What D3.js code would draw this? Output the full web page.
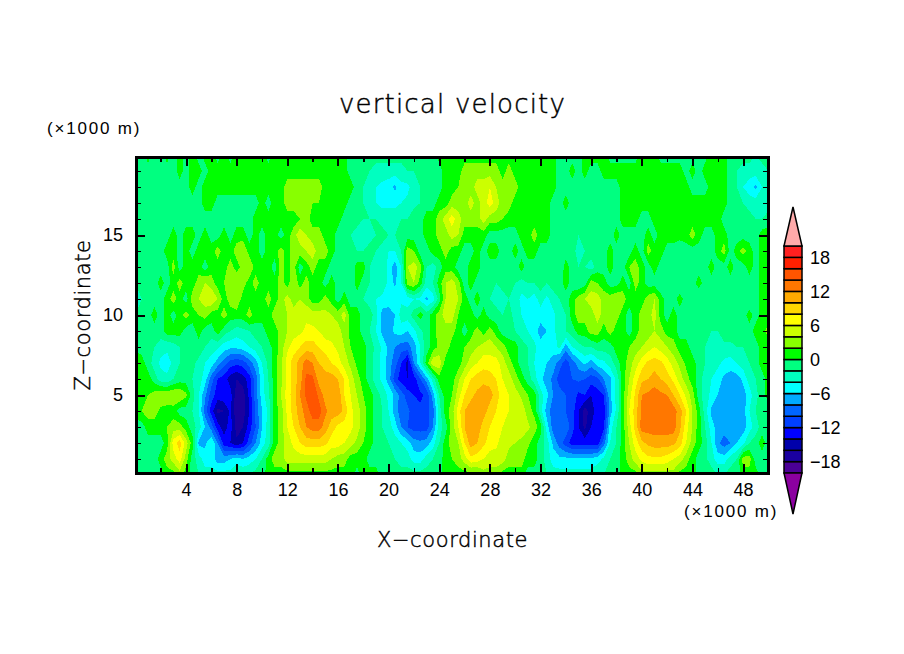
<!DOCTYPE html>
<html>
<head>
<meta charset="utf-8">
<script src="https://cdn.jsdelivr.net/npm/d3@7"></script>
<style>
  html, body { margin: 0; padding: 0; background: #fff; }
  svg { display: block; }
  text { fill: #000; font-family: "Liberation Sans", sans-serif; }
  .stroke-font { font-family: "DejaVu Sans", sans-serif; font-weight: 200; stroke: #000; stroke-width: 0.45; }
</style>
</head>
<body>
<svg id="chart" width="904" height="654"></svg>
<script>
// contour levels and their fills, lowest band first
const levels = d3.range(-20, 21, 2);
const bandColors = ["#4b0096", "#1a00a0", "#0000aa", "#0000ff", "#0040ff", "#0066ff", "#00aaff", "#00ffff", "#00ffc0", "#00ff80",
  "#00ff00", "#88ff00", "#ccff00", "#ffff00", "#ffd700", "#ffaa00", "#ff7700", "#ff5500", "#ff2000", "#ff2020"];
const overColor = "#ffaaaa";
const underColor = "#8b00a0";
const barLabels = [18, 12, 6, 0, -6, -12, -18];

const xMajor = d3.range(4, 49, 4);
const xMinor = d3.range(2, 47, 4);
const zMajor = [5, 10, 15];
const zMinor = [1, 2, 3, 4, 6, 7, 8, 9, 11, 12, 13, 14, 16, 17, 18, 19];

// vertical velocity, one row per km, columns every 0.5 km (x = 0..50)
const z20 = [-1,-1,1,-1,-1,1,-1,1,-1,1, -1,1,1,-1,1,-1,1,1,1,1, 1,-1,1,1,1,1,1,1,1,1, 1,1,1,1,-1,-1,-1,-1,-1,-1, -1,-1,-1,-1,-1,-1,-1,-1,1,1, 1,
  1,1,1,1,1,1,1,1,1,1, 1,1,1,1,1,1,-1,-1,-1,-1, 1,1,1,1,-1,-1,-1,-1,-1,1, 1,1,-1,-1,-1,-1,-1,-1,-1,-1, 1,1,1,-1,-1,-1,-1,-2,-1,-1];
const z19 = [-2,-1,-1,-1,-1,-1,-1,1,-1,1, 1,-1,1,1,1,1,1,1,1,1, 1,1,1,1,1,1,1,1,1,1, 1,1,1,1,-1,-1,-1,-2,-3,-3, -3,-3,-3,-2,-2,-1,-1,-1,-1,1, 1,
  1,3,3,3,3,3,3,1,3,1, 1,1,1,1,1,1,-1,-1,1,-1, 1,-1,-1,1,1,1,1,1,1,1, 1,1,1,1,1,1,-1,1,-1,1, 1,1,1,-1,-2,-3,-3,-3,-3,-2];
const z18 = [-2,-2,-1,-1,-1,-1,-1,-1,-1,1, -1,1,1,1,1,1,1,1,1,1, 1,1,1,1,3,3,3,3,3,3, 1,1,1,1,1,-1,-2,-3,-4,-4.5, -5,-6.5,-4.5,-4.5,-3,-2,-1,-1,-1,1, 1,
  2,3,3,5,5,6,4,3,3,3, 1,1,1,1,1,1,-1,-1,-1,-1, -1,-1,-1,-1,-1,-1,1,1,1,1, 1,1,1,1,1,1,1,-1,-1,-1, 1,1,1,-1,-2,-4,-5,-6.5,-4,-3];
const z17 = [-2,-1,-1,-1,-1,-1,-1,-1,-1,-1, -1,1,1,-1,-1,-1,-1,-1,-1,-1, 1,-1,1,1,3,3,3,3,2,2, 1,1,1,1,-1,-2,-2,-3,-4,-4.5, -4.5,-4.5,-4,-3.5,-2.5,-2,-1,-1,1,1, 3,
  3,3,5,3,5,7,5,3,3,1, 1,1,1,1,1,-1,-1,1,-1,-1, -1,-1,-1,-1,-1,-1,1,1,1,1, 1,1,1,1,1,1,1,1,1,1, 1,1,1,-1,-2,-2,-3,-3,-3,-3];
const z16 = [-2,-1,-1,-1,-2,-1,-1,-1,-1,-1, -1,-1,-1,-1,-1,-1,-1,-1,-1,1, 1,1,1,1,1,1,2,3,1,1, 1,1,1,-1,-1,-1,-2,-2,-2,-3, -3,-3,-2,-2,-1,-1,1,1,3,5, 7,
  5,3,3,3,5,3,3,2,1,1, 1,1,1,1,1,-1,-1,-1,-1,-2, -1,-1,-1,-1,-1,-1,1,1,1,-1, -1,1,1,1,1,1,1,1,1,1, 1,1,-1,-1,-1,-1,-1,-2,-2,-1];
const z15 = [-1,-2,-1,-1,-1,-1,1,-1,1,1, -1,1,-1,-1,1,-1,1,1,-1,1, -1,1,1,-1,1,3,5.5,4,3,3, 1,1,-1,-2,-2,-3,-3,-3,-2,-1, -2,-2,-1,-1,-1,-1,1,1,3,3, 5,
  4,1,1,1,1,-1,-1,-1,-1,-1, 1,1,3,1,1,-1,-1,-1,-2,-2, -2,-1,-1,-1,-1,1,-1,-1,-1,-1, 1,-1,1,1,1,1,1,3,1,-1, -1,1,1,-1,-1,-1,-1,-1,1,1];
const z14 = [-2,-2,-1,-1,-1,1,1,-1,1,-1, 1,1,1,3,1,1,3,4,1,1, -1,1,1,3,1,3,3,4,5,3, 3,1,-1,-2,-2,-2,-2,-1,-2,-3, -4,-4,-2,3,2,-1,-1,1,1,3, 1,
  1,-1,-1,1,-1,1,1,-1,-1,1, -1,1,1,-1,-1,-2,-1,-1,-1,-3, -2,-1,-1,-1,1,-1,-2,-1,1,-1, 3,1,1,-1,-1,-2,-1,-1,-1,-1, -1,1,3,-1,1,3,1,-1,1,1];
const z13 = [-2,-1,-2,-2,-1,-1,3,-1,1,1, 1,-1,1,1,1,3,1,3,4,1, 1,1,-1,3,1,3,-1,1,3,1, 1,-1,-2,-1,-2,1,1,-2,-3,-2, -5,-7,-4,4,5,3,-2,-3,-1,1, 1,
  -1,-1,1,1,-1,-1,-1,-2,-1,-1, 1,-1,-1,-1,-2,-1,-2,1,-1,-2, -2,-3,-1,-1,1,-1,-1,2,3,1, -1,1,-1,-1,-2,-1,-1,-2,-1,-1, 1,-1,-1,1,-1,-1,1,-1,1,1];
const z12 = [-2,-2,-1,-1,1,-1,1,3,1,1, 3,4,3,1,2,3,4,3,1,3, 1,1,1,3,1,4,1,3,1,1, -1,1,-1,-1,-2,1,-1,-2,-4,-2.5, -4.5,-6.5,-4,3,4,1,-3,-2,1,4, 5,
  3,-1,1,-1,-1,-2,-2,-1,-2,-2, -3,-2,-2,-1,-2,-1,-1,1,-1,-2, -1,3,2,1,-1,-1,1,-1,3,1, -1,-1,-2,-1,-1,-2,-1,-1,1,-1, -1,-1,-2,-1,-1,-2,-1,-1,1,1];
const z11 = [-3,-2,-2,-1,-1,1,3,1,-1,3, 4,5,6,4,1,3,4,1,1,1, 1,3,1,3,5,3,4,3,1,1, 3,1,-1,1,-1,-1,-2,-3,-4,-4.5, -5,-4.5,-4.5,-5,-4,-4.5,-6.5,-5,-1,4, 6,
  4,1,-1,1,-1,-2,-3,-3,-2,-3, -4.5,-4,-5,-3,-4.5,-3,-2,-1,1,3, 4,5,5,3,3,4,3,1,1,1, 3,4,1,-1,-1,1,-1,-1,-2,-1, -1,-2,-1,-2,-1,-1,-2,-1,1,1];
const z10 = [-2,-1,-1,1,-1,1,-1,1,3,1, 2,3,1,1,3,1,1,1,3,1, 1,1,3,3,4,5,5,5.5,5,5, 4.5,4,3,5,1,1,-1,-1,-3,-7, -7,-6,-3,-3,-1,1,-1,1,3,5, 5,
  2,1,1,-1,1,-1,-1,-2,-1,-3, -4,-4.5,-5,-5,-4.5,-4.5,-3,-2,1,3, 3,3,5,3,3,3,1,-1,1,3, 3,5,1,-1,1,-1,-1,-1,-1,-2, -2,-1,-1,-2,-1,-1,1,-1,1,1];
const z9 = [-1.5,-1,-2,-1,-1,1,1,1,-1,-1, 1,-1,-1,1,-1,-2,-3,-2.5,-2,-1, -1,1,1,3,4,5,5.5,6.5,6.5,6, 5,5,5,3,1.5,1,-1,-2,-4,-6.5, -7,-5.5,-5,-6,-4.5,-2.5,-1,1,3,3, 3,
  1,-1,1,3,1,3,1,-1,-1,-2, -3,-4,-5,-7,-6,-4.5,-3,-2,-1,1, 1,3,3,1,3,1,1,-1,1,3, 3,4,3,1,1,-1,-1,-1,-1,-1, -2,-2,-1,-1,-1,-1,-1,1,1,3];
const z8 = [-1,-1,-1.5,-2,-3,-3.5,-3,-2,-1,-1, -1,-2,-3,-3.5,-5,-5.5,-5.5,-5,-4,-3, -2,-1,1,3,5.5,7,8,9,9,8, 7,6.5,5.5,4,2,1,1,-1,-2.5,-4.5, -6.5,-8,-9,-9,-7,-4,-1,1,2.5,3.5, 1,
  1,2,3,4,5,5,4,3,1,1, -1,-2,-3.5,-5,-4.5,-5,-3.5,-7,-4,-3, -2,-2,-1,-1,-1,1,1,2,3,4, 5,6,5,4,3,1,1,-1,-1,-2, -2.5,-2.5,-2.5,-2.5,-2,-2,-1,-1,1,1];
const z7 = [3,1,-1,-3,-4.5,-5,-3.5,-2,-1.5,-1.5, -2.5,-4,-5,-7,-9,-11,-11.5,-11,-9,-7, -4,-1.5,1,3.5,7,9,11,13,12,10, 9.5,8,7,5,3.5,1.5,1,-1,-3,-4.5, -7,-9,-12,-15,-8,-4,1,5.5,5.5,1, 1,
  1,3,5,6,7,7,7,5,3,1, -1,-2,-4,-5,-6,-7,-9,-11,-9,-7, -5.5,-7,-5,-4.5,-3,-1,1,3,5,7, 8.5,9,8.5,7,5,3.5,1.5,1,-1,-2, -3,-3.5,-4.5,-5,-4,-3,-2,-1,1,1];
const z6 = [2.5,1,1,-1,-3,-3.5,-2,-1,-1,-2, -3,-5,-9,-12,-13,-15,-16,-15,-13,-9, -5,-2,1,3.5,6.5,9,11,14.5,14.5,11, 10.5,11,10,8,5,3,1,-1,-3,-4.5, -7,-11,-13,-14,-13,-10,-7,-3,1,1, 1,
  3.5,6,8,9,9.5,9,8,6,5,3, 1,-1,-3,-5.5,-7,-8.5,-11,-11,-10,-9.5, -10,-11,-10.5,-8,-6.5,-3.5,1,4,7,9.5, 10,11,10,9,7.5,5,3,1,-1,-3, -4,-5,-6.5,-7,-7,-5.5,-3,-2,-1,1];
const z5 = [-1,1,2,3,3.5,3.7,4,4,2.5,-1, -4,-7.5,-11,-13,-12.5,-13,-17.5,-17,-13.5,-9, -5,-2.5,1,4,7,9,12,14.5,15.5,13.5, 11,11.5,11.5,8,6,4,2,1,-1,-2.5, -4.5,-6.5,-9,-11,-12,-12.5,-11.5,-7,-2,1, 2,
  5,8,9.5,10.5,11,11,9,7,6,5, 3.5,2,1,-3,-5.5,-8,-9,-10,-10.5,-12.5, -12,-14,-13,-12,-6.5,-3.5,1,5,8.5,12, 12.5,13,12.5,12,10,8,5.5,3,-1,-3, -4.5,-6,-7,-7.5,-7.5,-7,-5,-2.5,-1,1];
const z4 = [1,2,3,3,1.5,1,1,-1,-1,-2, -4,-9,-13,-16.5,-16,-13.5,-17.5,-17,-14,-9.5, -6,-3.5,1,3,6.5,9,11,13,15,15, 12.5,11,11,9.5,6.5,5,3,1,-1,-2, -4,-7,-9,-9.5,-11,-11.5,-10.5,-9,-3,1, 3,
  7,10,11,11,11,9,8,7,6,5.5, 5.5,3,1.5,-3,-7,-9,-9.5,-10,-11,-14, -17,-15,-13,-13,-7,-3.5,1,6,9,12.5, 13,13,13,13,13,11,8,4,1,-3, -6.5,-7,-7,-7,-7,-7,-4,-2,-1,-1];
const z3 = [-1,-1,1,1,1,2,3,3,1,-1, -3,-6,-9,-13,-15,-13,-17,-16,-13,-10, -6,-3,1,3,6,8,10,12,13,13, 11,9,7.5,7,6.5,5,3,1,-1,-2, -3,-5,-8,-10,-11,-11,-11,-8,-3,-1, 3,
  6,10,11.5,11.5,9,8,7,6,5.5,5, 5,4.5,3,1,-5,-9,-9,-8.5,-11,-14, -16.5,-14,-13,-12.5,-5,-2,1,5,9,13, 13,13,13,13,13,10.5,7,4,1,-2, -5,-7,-7,-7,-7,-7,-5,-3,-1,-1];
const z2 = [-1,-1,-1,-1,-1,1,7,9,5,1, -6.5,-6.5,-4,-8,-13,-14,-15.5,-14,-11,-8, -5,-3,1,3,5,6.5,8,9,9,9, 8.5,7,7,6,5,3.5,2,1,-1,-2, -2,-3,-4,-5,-7,-7.5,-7,-5,-2,1, 3,
  4,8,11,10,8.5,7,6.5,5,4.5,4, 3.5,2.5,1,-1,-3,-6.5,-9,-11,-13,-13, -13,-13,-13,-9,-4,-2,1,4,7,9.5, 10.5,11,11,11,10.5,9,6,3,1,-1, -4,-7.5,-9,-8,-6,-4.5,-2,-1,1,-1];
const z1 = [-1,-1,-1,-1,1,3,5,7,3,-1, -3,-5,-5,-7,-7,-6,-5,-6,-5,-4, -2,1,3,3,5,5,5,5,5,5, 5,4,3,3,1,1,1,-1,-1,-1, -1,-2,-3,-3,-5,-5,-3,-2,-1,1, 2,
  3,5,7.5,7,6,5,5,5,3,3, 3,1,1,-1,-3,-5,-5.5,-5.5,-5.5,-5.5, -5.5,-5.5,-5,-3.5,-2,-1,1,3,5,6.5, 7.5,7.5,7.5,7,6,5,3,1,-1,-1.5, -3,-5,-5,-3,-2,3,3,-1,-1,-1];
const z0 = [-1,-1,-1,-1,-1,1,1,3,1,-1, -2,-3,-3,-3,-3,-3,-2,-2,-2,-1, -1,1,1,1,1,1,1,1,1,1, 1,1,1,1,1,-1,1,1,1,-1, -1,-1,-1,-1,-1,-1,-1,-1,-1,1, 1,
  1,1,1,1,3,3,3,1,1,1, 1,-1,-1,-2,-2,-3,-3,-3,-3,-3, -3,-3,-2,-2,-1,-1,1,1,1,3, 3,3,3,3,3,1,1,1,-1,-1, -1,-2,-2,-1,-1,1,1,1,-1,-1];
const rows = [z20,z19,z18,z17,z16,z15,z14,z13,z12,z11,z10,z9,z8,z7,z6,z5,z4,z3,z2,z1,z0];

const svg = d3.select("#chart");

// plot area in km, pixel ranges measured from the frame
const plot = { left: 136, right: 768, top: 157, bottom: 473 };
const x = d3.scaleLinear().domain([0, 50]).range([135.4, 768.4]);
const z = d3.scaleLinear().domain([0, 20]).range([475, 155]);

// d3.contours puts values at cell centres, so shift back half a cell
const nx = z20.length, ny = rows.length;
const toPixels = d3.geoTransform({
  point(gx, gy) {
    this.stream.point(x((gx - 0.5) / 2), z(20 - (gy - 0.5)));
  }
});
const contourPath = d3.geoPath(toPixels);
const contours = d3.contours().size([nx, ny]).thresholds(levels.slice(0, -1))(rows.flat());
const color = d3.scaleThreshold().domain(levels.slice(1, -1)).range(bandColors);

svg.append("clipPath").attr("id", "plot-clip").append("rect")
  .attr("x", plot.left).attr("y", plot.top)
  .attr("width", plot.right - plot.left).attr("height", plot.bottom - plot.top);

svg.append("g").attr("clip-path", "url(#plot-clip)")
  .selectAll("path").data(contours).join("path")
  .attr("d", contourPath)
  .attr("fill", d => color(d.value))
  .attr("shape-rendering", "crispEdges");

// ticks point inward on all four sides
function addAxis(axis, tx, ty, width) {
  const g = svg.append("g").attr("transform", `translate(${tx},${ty})`).call(axis);
  g.select(".domain").remove();
  g.selectAll("line").attr("stroke", "#000").attr("stroke-width", width).attr("shape-rendering", "crispEdges");
  return g;
}
addAxis(d3.axisBottom(x).tickValues(xMinor).tickSize(-5).tickFormat(""), 0, plot.bottom, 1.5);
addAxis(d3.axisTop(x).tickValues(xMinor).tickSize(-5).tickFormat(""), 0, plot.top, 1.5);
addAxis(d3.axisLeft(z).tickValues(zMinor).tickSize(-5).tickFormat(""), plot.left, 0, 1.5);
addAxis(d3.axisRight(z).tickValues(zMinor).tickSize(-5).tickFormat(""), plot.right, 0, 1.5);
addAxis(d3.axisTop(x).tickValues(xMajor).tickSize(-9).tickFormat(""), 0, plot.top, 2);
addAxis(d3.axisRight(z).tickValues(zMajor).tickSize(-9).tickFormat(""), plot.right, 0, 2);

const xAxis = addAxis(d3.axisBottom(x).tickValues(xMajor).tickSize(-9).tickPadding(10), 0, plot.bottom, 2);
xAxis.selectAll("text").attr("font-size", 18).attr("font-family", "Liberation Sans").attr("fill", "#000");
const zAxis = addAxis(d3.axisLeft(z).tickValues(zMajor).tickSize(-9).tickPadding(13), plot.left, 0, 2);
zAxis.selectAll("text").attr("font-size", 18).attr("font-family", "Liberation Sans").attr("fill", "#000");

svg.append("rect")
  .attr("x", plot.left).attr("y", plot.top)
  .attr("width", plot.right - plot.left).attr("height", plot.bottom - plot.top)
  .attr("fill", "none").attr("stroke", "#000").attr("stroke-width", 3)
  .attr("shape-rendering", "crispEdges");

// titles
svg.append("text").attr("class", "stroke-font").attr("x", 452.5).attr("y", 113).attr("text-anchor", "middle")
  .attr("font-size", 26).attr("letter-spacing", 1.2).text("vertical velocity");
svg.append("text").attr("class", "stroke-font").attr("x", 452.5).attr("y", 547).attr("text-anchor", "middle")
  .attr("font-size", 21).attr("letter-spacing", 0.6).text("X\u2212coordinate");
svg.append("text").attr("class", "stroke-font").attr("transform", "translate(90,315) rotate(-90)").attr("text-anchor", "middle")
  .attr("font-size", 21).attr("letter-spacing", 0.6).text("Z\u2212coordinate");
svg.append("text").attr("x", 47).attr("y", 134).attr("font-size", 17).attr("letter-spacing", 1.8).text("(\u00d71000 m)");
svg.append("text").attr("x", 684).attr("y", 517).attr("font-size", 17).attr("letter-spacing", 1.8).text("(\u00d71000 m)");

// colour bar
const barX = 784, barW = 18;
const bar = d3.scaleLinear().domain([-20, 20]).range([473, 246]);
const barG = svg.append("g");
barG.selectAll("rect").data(bandColors).join("rect")
  .attr("x", barX)
  .attr("y", (d, i) => bar(levels[i + 1]))
  .attr("width", barW)
  .attr("height", (d, i) => bar(levels[i]) - bar(levels[i + 1]))
  .attr("fill", d => d)
  .attr("stroke", "#000").attr("stroke-width", 1.5);
const tipLine = d3.line();
barG.append("path")
  .attr("d", tipLine([[barX, bar(20)], [barX + barW / 2, 207], [barX + barW, bar(20)]]) + "Z")
  .attr("fill", overColor).attr("stroke", "#000").attr("stroke-width", 1.5);
barG.append("path")
  .attr("d", tipLine([[barX, bar(-20)], [barX + barW / 2, 514], [barX + barW, bar(-20)]]) + "Z")
  .attr("fill", underColor).attr("stroke", "#000").attr("stroke-width", 1.5);
barG.selectAll("text").data(barLabels).join("text")
  .attr("x", 810)
  .attr("y", d => bar(d) + 6.5)
  .attr("font-size", 18)
  .text(d => String(d).replace("-", "\u2212"));
</script>
</body>
</html>
